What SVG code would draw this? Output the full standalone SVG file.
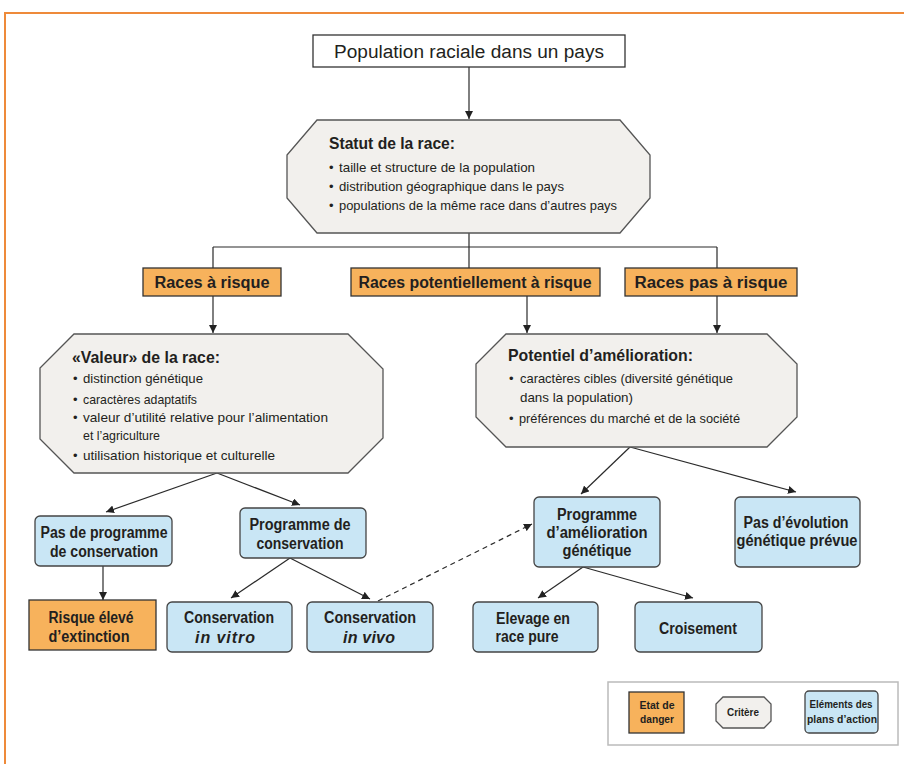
<svg xmlns="http://www.w3.org/2000/svg" width="904" height="764" viewBox="0 0 904 764">
<defs>
<marker id="ah" markerUnits="userSpaceOnUse" markerWidth="9" markerHeight="8" refX="8" refY="4" orient="auto">
<path d="M0,0 L8,4 L0,8 z" fill="#222"/>
</marker>
<style>
text{font-family:"Liberation Sans",Arial,sans-serif;fill:#231f20}
.t{font-size:17px;font-weight:bold}
.b{font-size:13px}
.l{font-size:16px;font-weight:bold;text-anchor:middle}
.lg{font-size:10.5px;font-weight:bold;text-anchor:middle}
.oct{fill:#f2f0ed;stroke:#555;stroke-width:1.3}
.org{fill:#f7b25c;stroke:#333;stroke-width:1.3}
.blu{fill:#c9e6f5;stroke:#444;stroke-width:1.3}
.c{fill:none;stroke:#2a2a2a;stroke-width:1.2}
</style>
</defs>
<path d="M5,764 V13 H904" fill="none" stroke="#ee8a3a" stroke-width="2"/>

<g id="connectors">
<path class="c" d="M469,67 V119" marker-end="url(#ah)"/>
<path class="c" d="M469,233 V268 M213,247 H717 M213,247 V268 M717,247 V268"/>
<path class="c" d="M213,296 V333" marker-end="url(#ah)"/>
<path class="c" d="M527,296 V333" marker-end="url(#ah)"/>
<path class="c" d="M717,296 V333" marker-end="url(#ah)"/>
<path class="c" d="M217,473 L106,512" marker-end="url(#ah)"/>
<path class="c" d="M217,473 L300,505" marker-end="url(#ah)"/>
<path class="c" d="M103,566 V600" stroke-width="1.6" marker-end="url(#ah)"/>
<path class="c" d="M290,558 L231,598" marker-end="url(#ah)"/>
<path class="c" d="M290,558 L370,599" marker-end="url(#ah)"/>
<path class="c" d="M378,601 L532,524" stroke-dasharray="5,4" marker-end="url(#ah)"/>
<path class="c" d="M630,447 L581,494" marker-end="url(#ah)"/>
<path class="c" d="M630,447 L796,492" marker-end="url(#ah)"/>
<path class="c" d="M583,567 L538,598" marker-end="url(#ah)"/>
<path class="c" d="M583,567 L693,598" marker-end="url(#ah)"/>
</g>

<g id="population">
<rect x="313" y="35" width="312" height="32" fill="#fff" stroke="#333" stroke-width="1.3"/>
<text x="469" y="58" style="font-size:18px;text-anchor:middle" textLength="270" lengthAdjust="spacingAndGlyphs">Population raciale dans un pays</text>
</g>

<g id="statut">
<polygon class="oct" points="317,120 620,120 650,155 650,198 620,233 317,233 287,198 287,155"/>
<text class="t" x="329" y="149" textLength="126" lengthAdjust="spacingAndGlyphs">Statut de la race:</text>
<text class="b" x="329" y="172">•</text>
<text class="b" x="339" y="172" textLength="196" lengthAdjust="spacingAndGlyphs">taille et structure de la population</text>
<text class="b" x="329" y="191">•</text>
<text class="b" x="339" y="191" textLength="225" lengthAdjust="spacingAndGlyphs">distribution géographique dans le pays</text>
<text class="b" x="329" y="210">•</text>
<text class="b" x="339" y="210" textLength="278" lengthAdjust="spacingAndGlyphs">populations de la même race dans d’autres pays</text>
</g>

<g id="races-risque">
<rect class="org" x="143" y="268" width="138" height="28"/>
<text class="l" x="212" y="288" textLength="115" lengthAdjust="spacingAndGlyphs">Races à risque</text>
</g>
<g id="races-potentiel">
<rect class="org" x="351" y="268" width="249" height="28"/>
<text class="l" x="475" y="288" textLength="233" lengthAdjust="spacingAndGlyphs">Races potentiellement à risque</text>
</g>
<g id="races-pas">
<rect class="org" x="625" y="268" width="172" height="28"/>
<text class="l" x="711" y="288" textLength="153" lengthAdjust="spacingAndGlyphs">Races pas à risque</text>
</g>

<g id="valeur">
<polygon class="oct" points="74,334 348,334 383,369 383,438 348,473 74,473 40,439 40,368"/>
<text class="t" x="72" y="363" textLength="148" lengthAdjust="spacingAndGlyphs">«Valeur» de la race:</text>
<text class="b" x="73" y="383">•</text>
<text class="b" x="83" y="383" textLength="120" lengthAdjust="spacingAndGlyphs">distinction génétique</text>
<text class="b" x="73" y="404">•</text>
<text class="b" x="83" y="404" textLength="114" lengthAdjust="spacingAndGlyphs">caractères adaptatifs</text>
<text class="b" x="73" y="422">•</text>
<text class="b" x="83" y="422" textLength="245" lengthAdjust="spacingAndGlyphs">valeur d’utilité relative pour l’alimentation</text>
<text class="b" x="83" y="440" textLength="77" lengthAdjust="spacingAndGlyphs">et l’agriculture</text>
<text class="b" x="73" y="460">•</text>
<text class="b" x="83" y="460" textLength="192" lengthAdjust="spacingAndGlyphs">utilisation historique et culturelle</text>
</g>

<g id="potentiel">
<polygon class="oct" points="506,334 767,334 797,364 797,417 767,447 506,447 476,417 476,364"/>
<text class="t" x="508" y="361" textLength="185" lengthAdjust="spacingAndGlyphs">Potentiel d’amélioration:</text>
<text class="b" x="509" y="383">•</text>
<text class="b" x="520" y="383" textLength="213" lengthAdjust="spacingAndGlyphs">caractères cibles (diversité génétique</text>
<text class="b" x="520" y="402" textLength="113" lengthAdjust="spacingAndGlyphs">dans la population)</text>
<text class="b" x="509" y="423">•</text>
<text class="b" x="519" y="423" textLength="221" lengthAdjust="spacingAndGlyphs">préférences du marché et de la société</text>
</g>

<g id="pas-programme">
<rect class="blu" x="35" y="516" width="137" height="50" rx="5"/>
<text class="l" x="104" y="538" textLength="127" lengthAdjust="spacingAndGlyphs">Pas de programme</text>
<text class="l" x="104" y="557" textLength="108" lengthAdjust="spacingAndGlyphs">de conservation</text>
</g>

<g id="programme-conservation">
<rect class="blu" x="240" y="508" width="126" height="50" rx="5"/>
<text class="l" x="300" y="530" textLength="101" lengthAdjust="spacingAndGlyphs">Programme de</text>
<text class="l" x="300" y="549" textLength="87" lengthAdjust="spacingAndGlyphs">conservation</text>
</g>

<g id="risque-eleve">
<rect class="org" x="29" y="600" width="127" height="50"/>
<text class="l" x="91" y="623" textLength="85" lengthAdjust="spacingAndGlyphs">Risque élevé</text>
<text class="l" x="89" y="642" textLength="81" lengthAdjust="spacingAndGlyphs">d’extinction</text>
</g>

<g id="in-vitro">
<rect class="blu" x="167" y="602" width="125" height="50" rx="5"/>
<text class="l" x="229" y="623" textLength="90" lengthAdjust="spacingAndGlyphs">Conservation</text>
<text class="l" x="225" y="643" style="font-style:italic" textLength="60" lengthAdjust="spacing">in vitro</text>
</g>

<g id="in-vivo">
<rect class="blu" x="307" y="602" width="126" height="50" rx="5"/>
<text class="l" x="370" y="623" textLength="92" lengthAdjust="spacingAndGlyphs">Conservation</text>
<text class="l" x="369" y="643" style="font-style:italic" textLength="52" lengthAdjust="spacing">in vivo</text>
</g>

<g id="programme-amelioration">
<rect class="blu" x="534" y="497" width="126" height="70" rx="5"/>
<text class="l" x="597" y="520" textLength="80" lengthAdjust="spacingAndGlyphs">Programme</text>
<text class="l" x="597" y="538" textLength="101" lengthAdjust="spacingAndGlyphs">d’amélioration</text>
<text class="l" x="597" y="556" textLength="69" lengthAdjust="spacingAndGlyphs">génétique</text>
</g>

<g id="pas-evolution">
<rect class="blu" x="735" y="497" width="125" height="70" rx="5"/>
<text class="l" x="796" y="528" textLength="105" lengthAdjust="spacingAndGlyphs">Pas d’évolution</text>
<text class="l" x="797" y="546" textLength="121" lengthAdjust="spacingAndGlyphs">génétique prévue</text>
</g>

<g id="elevage">
<rect class="blu" x="473" y="602" width="125" height="50" rx="5"/>
<text class="l" x="533" y="624" textLength="74" lengthAdjust="spacingAndGlyphs">Elevage en</text>
<text class="l" x="527" y="642" textLength="63" lengthAdjust="spacingAndGlyphs">race pure</text>
</g>

<g id="croisement">
<rect class="blu" x="635" y="602" width="127" height="50" rx="5"/>
<text class="l" x="698" y="634" textLength="78" lengthAdjust="spacingAndGlyphs">Croisement</text>
</g>

<g id="legend">
<rect x="608" y="682" width="290" height="63" fill="#fff" stroke="#bbb" stroke-width="1.5"/>
<rect class="org" x="629" y="692" width="55" height="41"/>
<text class="lg" x="657" y="709" textLength="35" lengthAdjust="spacingAndGlyphs">Etat de</text>
<text class="lg" x="657" y="723" textLength="34" lengthAdjust="spacingAndGlyphs">danger</text>
<polygon class="oct" points="723,697 764,697 771,704 771,721 764,728 723,728 716,721 716,704"/>
<text class="lg" x="743" y="716" textLength="32" lengthAdjust="spacingAndGlyphs">Critère</text>
<rect class="blu" x="805" y="691" width="73" height="42" rx="4"/>
<text class="lg" x="841" y="708" textLength="63" lengthAdjust="spacingAndGlyphs">Eléments des</text>
<text class="lg" x="842" y="723" textLength="70" lengthAdjust="spacingAndGlyphs">plans d’action</text>
</g>
</svg>
